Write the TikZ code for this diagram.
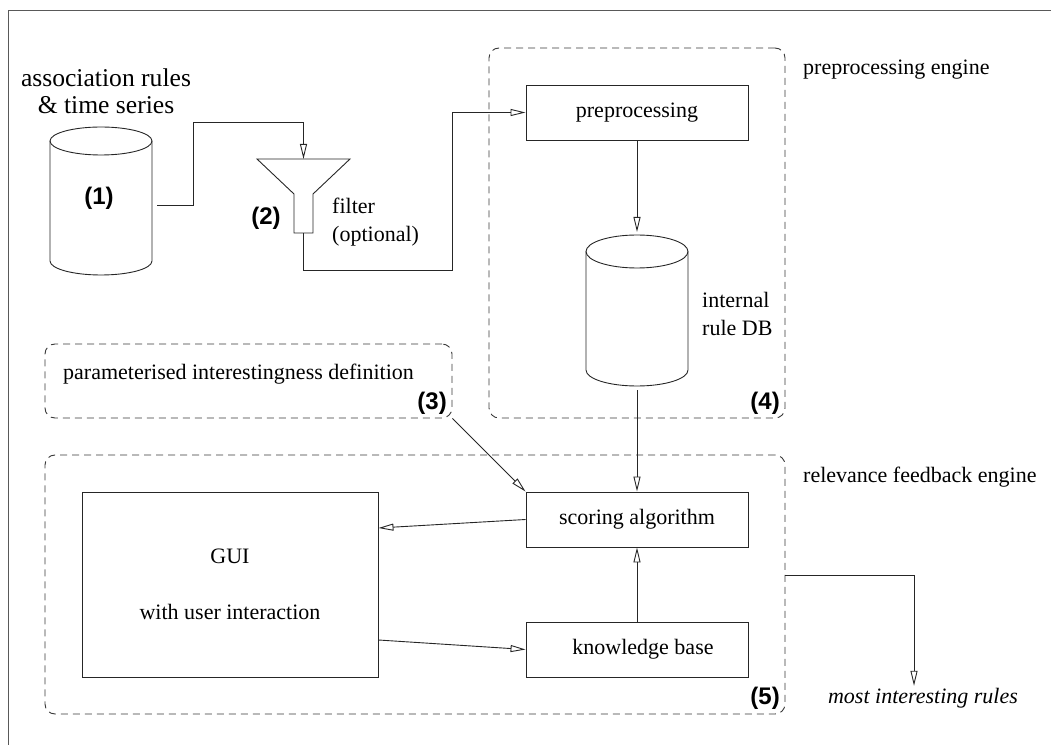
\documentclass[tikz,border=0pt]{standalone}
\usepackage{fontspec}
\setmainfont{Liberation Serif}
\newfontfamily\numfont{Liberation Sans}
\usetikzlibrary{arrows.meta,calc}

\tikzset{
  ln/.style={draw=black!85, line width=0.9pt},
  flow/.style={ln, -{Triangle[open,length=15pt,width=7pt]}},
  proc/.style={draw=black!85, line width=0.9pt, minimum width=222pt,
               minimum height=55pt, inner sep=0pt, align=center,
               font=\fontsize{22}{28}\selectfont},
  engine/.style={draw=black!78, line width=0.9pt, dash pattern=on 7pt off 5pt,
                 rounded corners=10pt, inner sep=0pt},
  lbl/.style={font=\fontsize{22}{28}\selectfont, inner sep=0pt},
  num/.style={font=\numfont\bfseries\fontsize{24}{28}\selectfont, inner sep=0pt},
  hull/.style={inner sep=0pt, outer sep=0pt},
}

\begin{document}
\begin{tikzpicture}[x=1pt,y=1pt]
\useasboundingbox (0,0) rectangle (1051,745);

% outer frame (top and left edges)
\draw[draw=black!65, line width=1pt] (1051,734) -- (8,734) -- (8,0);

% ---------- source data ----------
\node[lbl, align=center, font=\fontsize{25.6}{27}\selectfont] (srctitle) at (106,653.5)
  {association rules\\\& time series};

\node[hull, minimum width=102pt, minimum height=148pt] (src) at (101,544) {};
\draw[ln] (101,604) ellipse[x radius=51pt, y radius=14pt];
\draw[ln] (50,604) -- (50,484) arc[start angle=180, end angle=360, x radius=51pt, y radius=14pt] -- (152,604);
\node[num] (n1) at (99,547) {(1)};

% ---------- filter funnel ----------
\node[hull, minimum width=93pt, minimum height=74pt] (funnel) at (303.5,549) {};
\draw[ln] (257,586) -- (350,586) -- (313,551) -- (313,512) -- (294,512) -- (294,551) -- cycle;
\node[num] (n2) at (266,527) {(2)};
\node[lbl, align=left, anchor=west] (filterlbl) at (332,523) {filter\\(optional)};

% ---------- preprocessing engine ----------
\node[engine, minimum width=296pt, minimum height=370pt] (pe) at (637,512) {};
\node[lbl, anchor=west] (pelbl) at (803,675) {preprocessing engine};
\node[proc] (prep) at (637,632.5) {preprocessing};

\node[hull, minimum width=102pt, minimum height=151pt] (db) at (637,434.5) {};
\draw[ln] (637,493.5) ellipse[x radius=51pt, y radius=16.5pt];
\draw[ln] (586,493.5) -- (586,375) arc[start angle=180, end angle=360, x radius=51pt, y radius=16pt] -- (688,493.5);
\node[lbl, align=left, anchor=west] (dblbl) at (702,431) {internal\\rule DB};
\node[num, anchor=east] (n4) at (780,342) {(4)};

% ---------- interestingness definition ----------
\node[engine, minimum width=407pt, minimum height=74pt] (pid) at (248.5,364) {};
\node[lbl, anchor=west] (pidlbl) at (63,371) {parameterised interestingness definition};
\node[num, anchor=east] (n3) at (447,342) {(3)};

% ---------- relevance feedback engine ----------
\node[engine, minimum width=740pt, minimum height=259pt] (rfe) at (415,160.5) {};
\node[lbl, anchor=west] (rfelbl) at (803,268) {relevance feedback engine};
\node[proc] (score) at (637,225.5) {scoring algorithm};
\node[proc] (kb) at (637,95.5) {\hspace{12pt}knowledge base};
\node[proc, minimum width=296pt, minimum height=185pt] (gui) at (230,160.5)
  {GUI\\[28pt]with user interaction};
\node[num, anchor=east] (n5) at (780,47) {(5)};

\node[lbl, anchor=center, font=\itshape\fontsize{22}{28}\selectfont] (out) at (923,47) {most interesting rules};

% ---------- connectors ----------
\coordinate (srcout) at ([xshift=5pt, yshift=-4pt]src.east);
\draw[flow] (srcout) -- (193,540) |- (303.5,623) -- (funnel.north);
\draw[flow] (funnel.south) -- (303.5,475) -| (452,632.5) -- (prep.west);
\draw[flow] (prep.south) -- ([yshift=3pt]db.north);
\draw[flow] ([yshift=-4pt]db.south) -- (score.north);
\draw[flow] (pid.south east) -- (score.north west);
\draw[flow] (score.west) -- ([yshift=56.5pt]gui.east);
\draw[flow] ([yshift=-55.5pt]gui.east) -- (kb.west);
\draw[flow] (kb.north) -- (score.south);
\draw[flow] ([yshift=9.5pt]rfe.east) -| ([xshift=-9pt, yshift=2pt]out.north);
\end{tikzpicture}
\end{document}
